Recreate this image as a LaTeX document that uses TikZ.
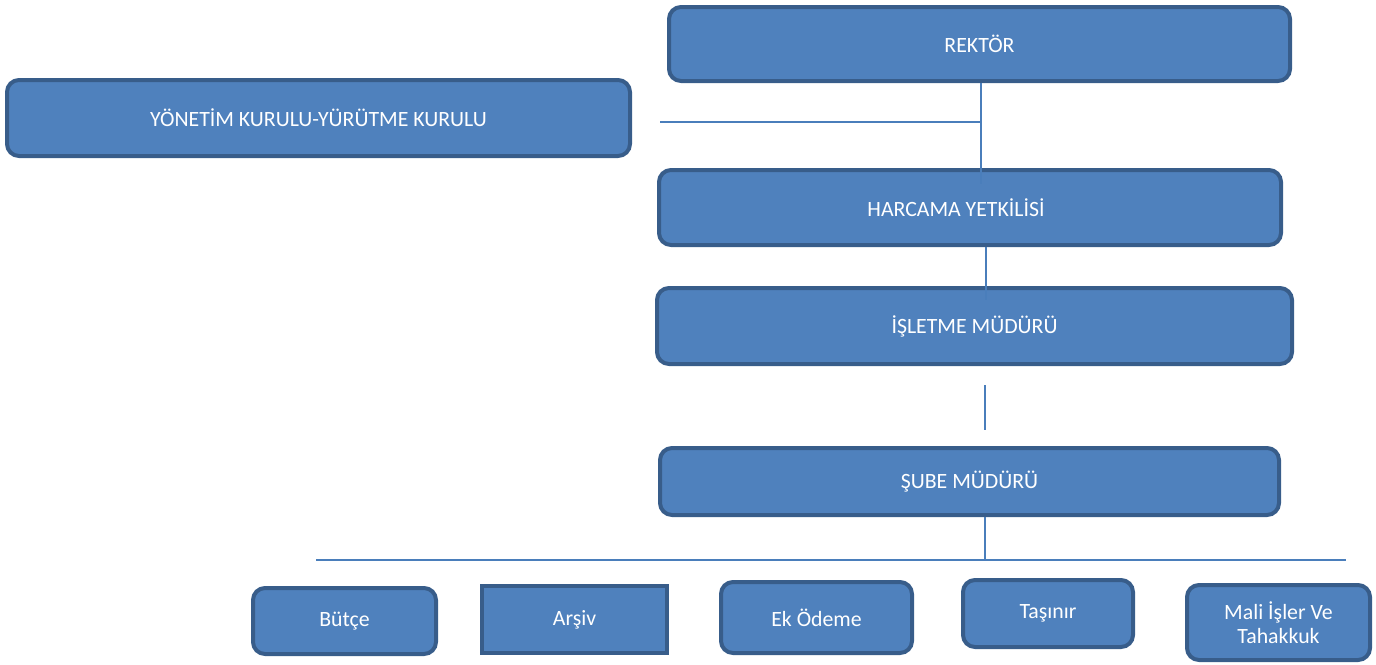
\documentclass[tikz,border=0pt]{standalone}
\usepackage{fontspec}
\setmainfont{Carlito}
\begin{document}
\begin{tikzpicture}[x=1pt,y=-1pt,
  orgbox/.style={draw=boxline, fill=boxfill, line width=4pt, rounded corners=12pt,
    text=white, font=\fontsize{21.8}{27}\selectfont, inner sep=0pt, align=center},
  sharpbox/.style={orgbox, rounded corners=0pt},
  conn/.style={draw=connline, line width=2pt}]
\definecolor{boxfill}{HTML}{4F81BD}
\definecolor{boxline}{HTML}{385D8A}
\definecolor{connline}{HTML}{4A7EBB}
\useasboundingbox (0,0) rectangle (1376,664);
% top boxes
\node[orgbox, minimum width=621pt, minimum height=74pt] (rek) at (979.5,44) {REKTÖR};
\node[orgbox, minimum width=623pt, minimum height=76pt] (yon) at (318.5,118) {YÖNETİM KURULU-YÜRÜTME KURULU};
\node[orgbox, minimum width=622pt, minimum height=75pt] (har) at (970,207.5) {\hspace*{-28pt}HARCAMA YETKİLİSİ};
\node[orgbox, minimum width=635pt, minimum height=76pt] (isl) at (974.5,326) {İŞLETME MÜDÜRÜ};
\node[orgbox, minimum width=619pt, minimum height=67pt] (sub) at (969.5,481.5) {ŞUBE MÜDÜRÜ};
% bottom boxes
\node[orgbox, minimum width=183pt, minimum height=66pt] (but) at (344.5,621) {Bütçe};
\node[sharpbox, minimum width=185pt, minimum height=67pt] (ars) at (574.5,619.5) {Arşiv};
\node[orgbox, minimum width=191pt, minimum height=71pt] (ek) at (816.5,617.5) {Ek Ödeme};
\node[orgbox, minimum width=170pt, minimum height=67pt] (tas) at (1048,613.5) {\raisebox{3pt}{Taşınır}};
\node[orgbox, minimum width=183pt, minimum height=75pt] (mal) at (1278.5,622.5) {\raisebox{-1pt}{\shortstack{Mali İşler Ve\\[2pt]Tahakkuk}}};
% connector coordinates
\coordinate (j1) at (981,122);
\coordinate (r2) at (981,184);
\coordinate (yl) at (660,122);
\coordinate (h1) at (986,248);
\coordinate (h2) at (986,300);
\coordinate (i1) at (985,385);
\coordinate (i2) at (985,430);
\coordinate (s1) at (985,517);
\coordinate (b0) at (316,560);
\coordinate (b1) at (985,560);
\coordinate (b2) at (1346,560);
% connectors
\draw[conn] (rek.south -| j1) -- (r2);
\draw[conn] (yl) -- (j1);
\draw[conn] (har.south -| h1) -- (h2);
\draw[conn] (i1) -- (i2);
\draw[conn] (sub.south -| s1) -- (b1);
\draw[conn] (b0) -- (b2);
\end{tikzpicture}
\end{document}
